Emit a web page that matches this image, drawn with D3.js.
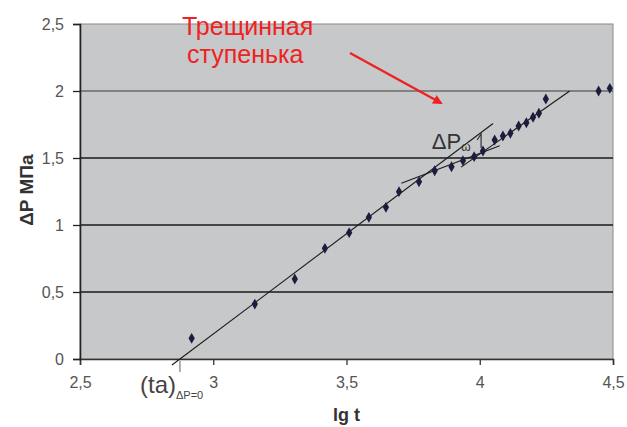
<!DOCTYPE html>
<html>
<head>
<meta charset="utf-8">
<script src="https://cdn.jsdelivr.net/npm/d3@7"></script>
<style>
  body { margin: 0; background: #fff; }
  text { font-family: "Liberation Sans", Arial, sans-serif; }
</style>
</head>
<body>
<div class="chart"></div>
<script>
// Data
var lgT = [2.919, 3.156, 3.306, 3.419, 3.51, 3.584, 3.648, 3.697, 3.772, 3.831, 3.894, 3.937,
  3.979, 4.012, 4.056, 4.087, 4.115, 4.146, 4.175, 4.2, 4.222, 4.248, 4.446, 4.488];
var dP = [0.154, 0.41, 0.597, 0.826, 0.943, 1.057, 1.132, 1.249, 1.323, 1.405, 1.435, 1.48,
  1.51, 1.552, 1.634, 1.664, 1.684, 1.739, 1.763, 1.804, 1.834, 1.94, 2.0, 2.02];

// straight lines drawn on the chart: [lg t, dP] end points
var lineEarly = [[2.845, -0.045], [4.05, 1.757]];
var lineStep = [[3.706, 1.311], [4.075, 1.592]];
var lineLate = [[3.93, 1.432], [4.3375, 2.0]];

var xTicks = [2.5, 3, 3.5, 4, 4.5];
var yTicks = [0, 0.5, 1, 1.5, 2, 2.5];
var tA = 2.875;

var svgWidth = 627;
var svgHeight = 427;

var margin = { top: 24, right: 14, bottom: 68, left: 80 };
var width = svgWidth - margin.left - margin.right;
var height = svgHeight - margin.top - margin.bottom;

var svg = d3.select(".chart")
  .append("svg")
  .attr("width", svgWidth)
  .attr("height", svgHeight);

var defs = svg.append("defs");
defs.append("marker")
  .attr("id", "redhead")
  .attr("viewBox", "0 0 10 10")
  .attr("refX", 8).attr("refY", 5)
  .attr("markerWidth", 4).attr("markerHeight", 4)
  .attr("orient", "auto")
  .append("path")
  .attr("d", "M0,0L10,5L0,10z")
  .attr("fill", "#ee2222");

var chartGroup = svg.append("g")
  .attr("transform", `translate(${margin.left}, ${margin.top})`);

// Scales
var x = d3.scaleLinear().domain([2.5, 4.5]).range([0, width]);
var y = d3.scaleLinear().domain([0, 2.5]).range([height, 0]);

// Plot area
chartGroup.append("rect")
  .attr("width", width)
  .attr("height", height)
  .attr("fill", "#c6c8ca")
  .attr("stroke", "#8a8a8a");

// Grid lines
chartGroup.selectAll(".grid")
  .data(yTicks.filter(d => d > 0 && d < 2.5))
  .enter()
  .append("line")
  .attr("x1", 0).attr("x2", width)
  .attr("y1", d => y(d)).attr("y2", d => y(d))
  .attr("stroke", d => d == 2 ? "#6a6a6a" : "#1a1a1a")
  .attr("stroke-width", 1.3);

// Axes
var fmt = d => d3.format("")(d).replace(".", ",");
var bottomAxis = d3.axisBottom(x).tickValues(xTicks).tickSize(6).tickFormat(fmt);
var leftAxis = d3.axisLeft(y).tickValues(yTicks).tickSize(7).tickFormat(fmt);

var xAxisG = chartGroup.append("g")
  .attr("transform", `translate(0, ${height})`)
  .call(bottomAxis);
xAxisG.select(".domain").attr("stroke", "#333").attr("stroke-width", 1.5);
xAxisG.selectAll(".tick line").attr("stroke", "#333").attr("stroke-width", 1.3);
xAxisG.selectAll(".tick text")
  .attr("font-size", 16).attr("fill", "#555").attr("dy", "1.25em");

var yAxisG = chartGroup.append("g").call(leftAxis);
yAxisG.select(".domain").attr("stroke", "#222").attr("stroke-width", 1.6);
yAxisG.selectAll(".tick line").attr("stroke", "#222").attr("stroke-width", 1.3);
yAxisG.selectAll(".tick text")
  .attr("font-size", 16).attr("fill", "#555").attr("x", -16);

// ta tick below the axis
chartGroup.append("line")
  .attr("x1", x(tA)).attr("x2", x(tA))
  .attr("y1", height + 2).attr("y2", height + 13)
  .attr("stroke", "#777").attr("stroke-width", 1.2);

// Lines
var line = d3.line().x(d => x(d[0])).y(d => y(d[1]));
[lineEarly, lineStep, lineLate].forEach(function (l) {
  chartGroup.append("path")
    .attr("d", line(l))
    .attr("fill", "none")
    .attr("stroke", "#1a1a1a")
    .attr("stroke-width", 1.1);
});

// Points
var diamond = d3.symbol().type(d3.symbolDiamond).size(34);
chartGroup.selectAll(".pt")
  .data(lgT)
  .enter()
  .append("path")
  .attr("d", diamond)
  .attr("transform", (d, i) => `translate(${x(d)}, ${y(dP[i])})`)
  .attr("fill", "#1c1c3c");

// dP omega label and small arrow
var lab = chartGroup.append("text")
  .attr("x", x(3.82))
  .attr("y", y(1.5) - 9)
  .attr("font-size", 22)
  .attr("fill", "#333");
lab.append("tspan").text("ΔP");
lab.append("tspan").attr("font-size", 12).attr("dy", 2).text("ω");

var ax = x(4.005);
chartGroup.append("path")
  .attr("d", `M${ax},${y(1.5) - 10}L${ax},${y(1.5) - 24}L${ax - 4},${y(1.5) - 18}`)
  .attr("fill", "none")
  .attr("stroke", "#333")
  .attr("stroke-width", 1.2);

// Red annotation
var red = svg.append("text")
  .attr("font-size", 25)
  .attr("fill", "#ee2222");
red.append("tspan").attr("x", 182).attr("y", 35).text("Трещинная");
red.append("tspan").attr("x", 187).attr("y", 63).text("ступенька");

svg.append("line")
  .attr("x1", 350).attr("y1", 53)
  .attr("x2", 441).attr("y2", 103)
  .attr("stroke", "#ee2222")
  .attr("stroke-width", 2.4)
  .attr("marker-end", "url(#redhead)");

// (ta) label
var taLab = svg.append("text")
  .attr("x", 140)
  .attr("y", 393)
  .attr("font-size", 24)
  .attr("fill", "#444");
taLab.append("tspan").text("(ta)");
taLab.append("tspan").attr("font-size", 11).attr("dy", 6).text("ΔP=0");

// Axis titles
chartGroup.append("text")
  .attr("transform", "rotate(-90)")
  .attr("x", 0 - y(1.26))
  .attr("y", 0 - margin.left + 33)
  .attr("text-anchor", "middle")
  .attr("font-size", 19)
  .attr("font-weight", "bold")
  .attr("fill", "#333")
  .text("ΔP МПа");

chartGroup.append("text")
  .attr("x", x(3.5))
  .attr("y", height + 62)
  .attr("text-anchor", "middle")
  .attr("font-size", 18)
  .attr("font-weight", "bold")
  .attr("fill", "#333")
  .text("lg t");
</script>
</body>
</html>
